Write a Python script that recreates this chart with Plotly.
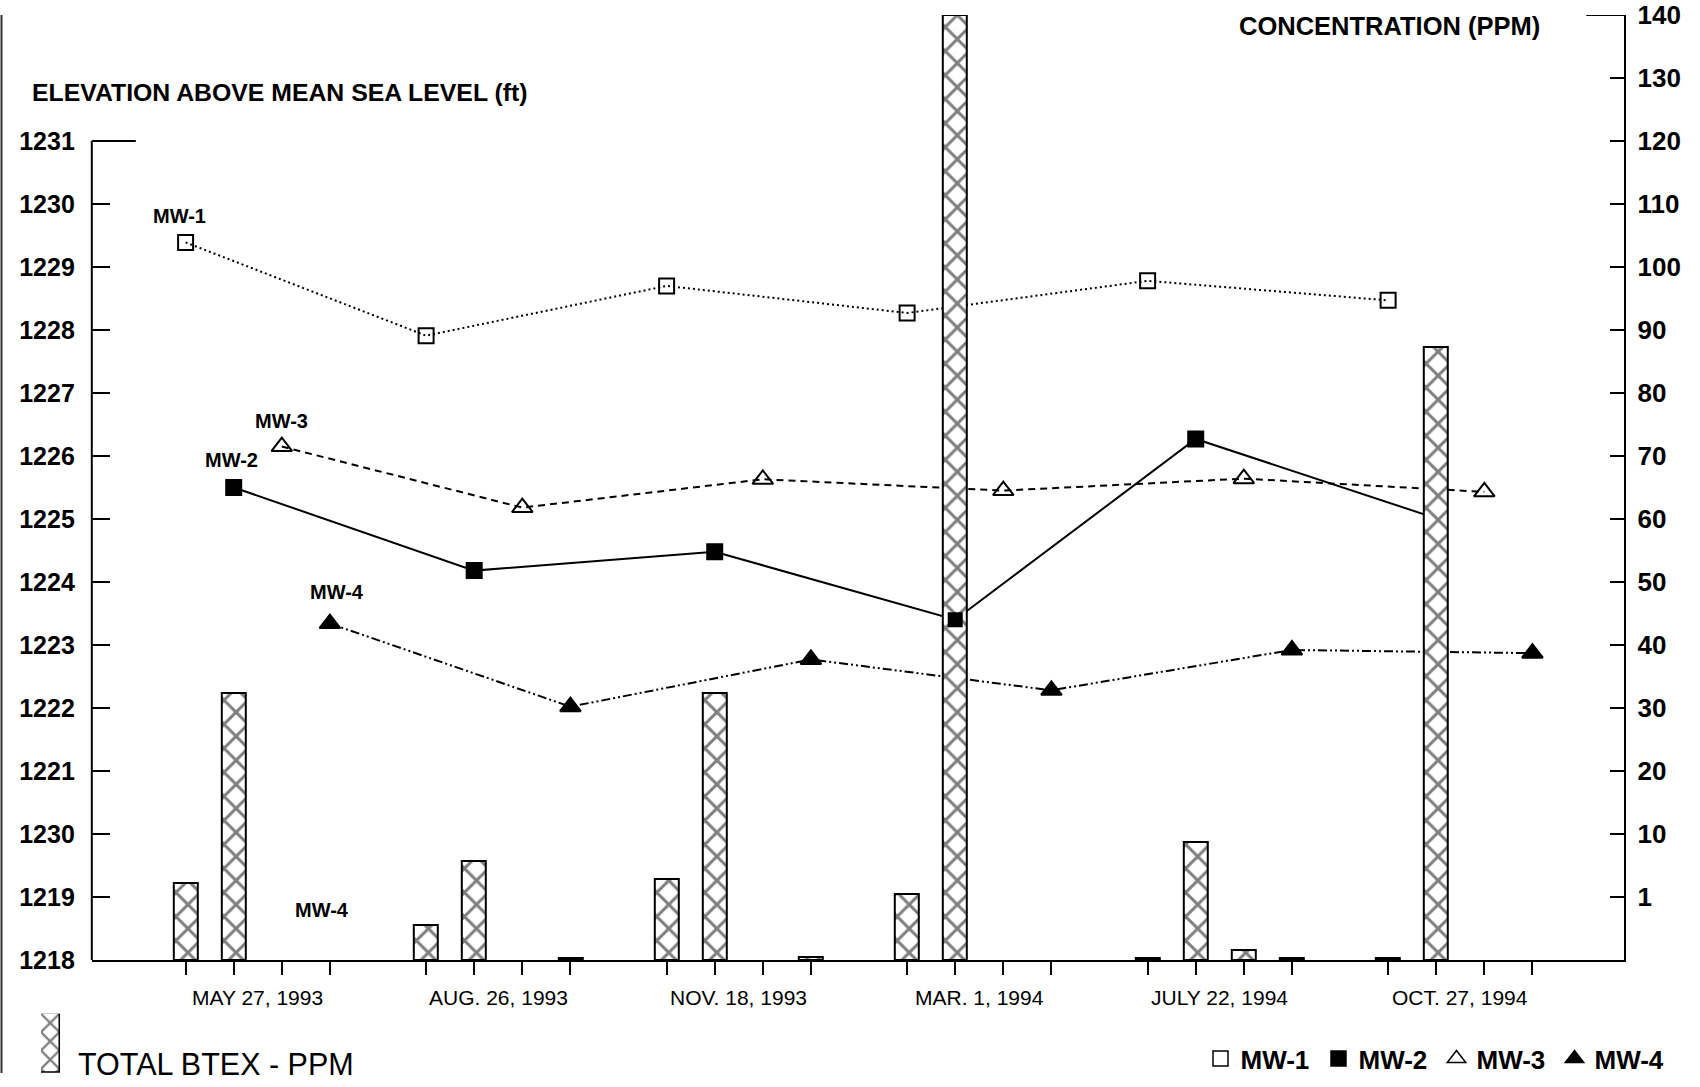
import numpy as np
import plotly.graph_objects as go

# ---------------- data ----------------
dates = ["MAY 27, 1993", "AUG. 26, 1993", "NOV. 18, 1993",
         "MAR. 1, 1994", "JULY 22, 1994", "OCT. 27, 1994"]
wells = ["MW-1", "MW-2", "MW-3", "MW-4"]

# groundwater elevation (ft above MSL)
mw1_elev = [1229.39, 1227.91, 1228.70, 1228.27, 1228.78, 1228.47]
mw2_elev = [1225.50, 1224.18, 1224.48, 1223.40, 1226.27, 1225.01]
mw3_elev = [1226.15, 1225.18, 1225.63, 1225.45, 1225.64, 1225.43]
mw4_elev = [1223.34, 1222.02, 1222.77, 1222.28, 1222.92, 1222.87]

# total BTEX (ppm); None = no bar
mw1_btex = [3.05, 0.55, 3.6, 1.4, 0.03, 0.03]
mw2_btex = [32.4, 6.1, 32.4, 140.0, 8.9, 87.3]
mw3_btex = [None, None, None, None, 0.15, None]
mw4_btex = [None, 0.03, 0.04, None, 0.03, None]

elev_tickvals = list(range(1218, 1232))
elev_ticktext = ["1218", "1219", "1230", "1221", "1222", "1223", "1224",
                 "1225", "1226", "1227", "1228", "1229", "1230", "1231"]
ppm_ticks = [0, 1, 10, 20, 30, 40, 50, 60, 70, 80, 90, 100, 110, 120, 130, 140]
ppm_ticktext = ["", "1", "10", "20", "30", "40", "50", "60", "70", "80",
                "90", "100", "110", "120", "130", "140"]

# ---------------- helpers ----------------
GROUP = 5  # slots per sampling date (4 wells + gap)


def slot(i, j):
    return GROUP * i + j


ppm_pos = list(range(len(ppm_ticks)))


def ppm_to_scale(v):
    return None if v is None else float(np.interp(v, ppm_ticks, ppm_pos))


W, H = 1700, 1087
# the rendered figure occupies ~1062 px of height, centred in the 1087 frame
OFF, HE = 12.5, 1062.0


def py(ypx):
    """paper y for a target pixel row (from top) in the final picture"""
    return min(1.0, max(0.0, 1 - (ypx - OFF) / HE))


PL, PR, PB = 91.8, 1624.3, 961.0
xdom = [PL / W, PR / W]
ydom = [py(PB), 1.0]

FONT = "Liberation Sans, Arial, Helvetica, sans-serif"
HATCH = dict(shape="x", size=17, solidity=0.32, fgcolor="black", bgcolor="white")

fig = go.Figure()

elevs = [mw1_elev, mw2_elev, mw3_elev, mw4_elev]
styles = [
    dict(dash="2px,3px", symbol="square-open", size=15),
    dict(dash="solid", symbol="square", size=15),
    dict(dash="7px,5px", symbol="triangle-up-open", size=18),
    dict(dash="9px,3px,2px,3px,2px,3px", symbol="triangle-up", size=18),
]

for j, (name, ev, st) in enumerate(zip(wells, elevs, styles)):
    fig.add_trace(go.Scatter(
        x=[slot(i, j) for i in range(len(dates))], y=ev,
        mode="lines+markers", name=name, showlegend=False,
        line=dict(color="black", width=2, dash=st["dash"]),
        marker=dict(symbol=st["symbol"], size=st["size"], color="black",
                    line=dict(color="black", width=2)),
        xaxis="x", yaxis="y"))

# BTEX bars (drawn on overlaying axis so they sit above the lines)
btex = [mw1_btex, mw2_btex, mw3_btex, mw4_btex]
bx, by = [], []
for j, vals in enumerate(btex):
    for i, v in enumerate(vals):
        if v is not None:
            bx.append(slot(i, j))
            by.append(ppm_to_scale(v))

fig.add_trace(go.Bar(
    x=bx, y=by, width=0.5, name="TOTAL BTEX - PPM", showlegend=False,
    marker=dict(color="white", line=dict(color="black", width=2),
                pattern=HATCH),
    xaxis="x", yaxis="y2"))

# MW-2 marker that sits on top of the tall March bar
fig.add_trace(go.Scatter(
    x=[slot(i, 1) for i in range(len(dates))], y=mw2_elev, mode="markers",
    showlegend=False, hoverinfo="skip",
    marker=dict(symbol="square", size=15, color="black",
                opacity=[0, 0, 0, 1, 0, 0]),
    xaxis="x", yaxis="y3"))

# legend-only entries for wells
legend_sizes = [15, 15, 20, 20]
for name, st, ls in zip(wells, styles, legend_sizes):
    fig.add_trace(go.Scatter(
        x=[None], y=[None], mode="markers", name=name,
        marker=dict(symbol=st["symbol"], size=ls, color="black",
                    line=dict(color="black", width=1.5)),
        xaxis="x", yaxis="y"))

# legend key for BTEX bars
fig.add_trace(go.Bar(
    x=[0], y=[1], width=1, showlegend=False, hoverinfo="skip",
    marker=dict(color="white", line=dict(color="black", width=1.5),
                pattern=dict(shape="x", size=13, solidity=0.32,
                             fgcolor="black", bgcolor="white")),
    xaxis="x2", yaxis="y4"))

all_slots = [slot(i, j) for i in range(len(dates)) for j in range(len(wells))]

annotations = []
for i, d in enumerate(dates):
    annotations.append(dict(
        x=slot(i, 1.5), xref="x", y=py(998.5), yref="paper",
        text=d, showarrow=False, xanchor="center", yanchor="middle",
        font=dict(family=FONT, size=21, color="black")))

# well labels near first points
label_shift = [(-6, 26), (-2, 27), (0, 26), (7, 32)]
for j, (name, ev) in enumerate(zip(wells, elevs)):
    annotations.append(dict(
        x=slot(0, j), xref="x", y=ev[0], yref="y", text=name,
        showarrow=False, xshift=label_shift[j][0], yshift=label_shift[j][1],
        font=dict(family=FONT, size=20, color="black", weight="bold")))

annotations.append(dict(
    x=slot(0, 3), xref="x", y=0.8, yref="y2", text="MW-4", showarrow=False,
    xshift=-8, font=dict(family=FONT, size=20, color="black", weight="bold")))

annotations.append(dict(
    x=30.4 / W, xref="paper", y=py(90.5), yref="paper",
    text="ELEVATION ABOVE MEAN SEA LEVEL (ft)", showarrow=False,
    xanchor="left", yanchor="middle",
    font=dict(family=FONT, size=24.8, color="black", weight="bold")))
annotations.append(dict(
    x=1389 / W, xref="paper", y=py(24), yref="paper",
    text="CONCENTRATION (PPM)", showarrow=False,
    xanchor="center", yanchor="middle",
    font=dict(family=FONT, size=25.5, color="black", weight="bold")))
annotations.append(dict(
    x=75.5 / W, xref="paper", y=py(1065), yref="paper",
    text="TOTAL BTEX - PPM", showarrow=False,
    xanchor="left", yanchor="middle",
    font=dict(family=FONT, size=30.5, color="black")))

shapes = [
    # left axis line only up to 1231
    dict(type="line", xref="x domain", x0=0, x1=0, yref="y",
         y0=elev_tickvals[0], y1=elev_tickvals[-1],
         line=dict(color="black", width=2)),
    # long top tick on left axis
    dict(type="line", xref="x domain", x0=0, x1=44 / (PR - PL), yref="y",
         y0=elev_tickvals[-1], y1=elev_tickvals[-1],
         line=dict(color="black", width=2)),
    # long top tick on right axis
    dict(type="line", xref="x domain", x0=1 - 38 / (PR - PL), x1=1, yref="y2",
         y0=ppm_pos[-1], y1=ppm_pos[-1], line=dict(color="black", width=2)),
    # scan border at the left edge
    dict(type="line", xref="paper", x0=1.5 / W, x1=1.5 / W, yref="paper",
         y0=0, y1=1, line=dict(color="#333333", width=2)),
]

fig.update_layout(
    width=W, height=H, autosize=False,
    margin=dict(l=0, r=0, t=0, b=0),
    paper_bgcolor="white", plot_bgcolor="white",
    font=dict(family=FONT, color="black"),
    bargap=0, barmode="overlay",
    xaxis=dict(domain=xdom, range=[-1.95, 29.91], anchor="y",
               showline=True, linecolor="black", linewidth=2,
               ticks="outside", ticklen=13, tickwidth=1.5, tickcolor="black",
               tickvals=all_slots, showticklabels=False,
               showgrid=False, zeroline=False),
    yaxis=dict(domain=ydom, range=[1218, 1233], anchor="x",
               tickvals=elev_tickvals, ticktext=elev_ticktext,
               ticks="inside", ticklen=18, tickwidth=2, tickcolor="black",
               ticklabelstandoff=16,
               tickfont=dict(family=FONT, size=25, weight="bold"),
               showline=False, showgrid=False, zeroline=False),
    yaxis2=dict(overlaying="y", side="right", anchor="x",
                range=[0, ppm_pos[-1]], tickvals=ppm_pos[1:],
                ticktext=ppm_ticktext[1:],
                ticks="inside", ticklen=14, tickwidth=2, tickcolor="black",
                ticklabelstandoff=6, ticklabeloverflow="allow",
                tickfont=dict(family=FONT, size=26, weight="bold"),
                showline=True, linecolor="black", linewidth=2,
                showgrid=False, zeroline=False),
    yaxis3=dict(overlaying="y", range=[1218, 1233], visible=False,
                anchor="x"),
    xaxis2=dict(domain=[41 / W, 60 / W], range=[-0.5, 0.5], visible=False,
                anchor="y4"),
    yaxis4=dict(domain=[py(1084), py(1015)], range=[0, 1],
                visible=False, anchor="x2"),
    legend=dict(orientation="h", x=1200.5 / W, xanchor="left",
                y=py(1060), yanchor="middle",
                font=dict(family=FONT, size=26, weight="bold"),
                entrywidth=73, entrywidthmode="pixels",
                bgcolor="rgba(0,0,0,0)", borderwidth=0),
    annotations=annotations,
    shapes=shapes,
)

fig.write_html(
    "out.html",
    config={"displayModeBar": False},
    post_script=(
        "document.documentElement.style.margin='0';"
        "document.documentElement.style.overflow='hidden';"
        "document.body.style.margin='0';"
        "document.body.style.overflow='hidden';"
        "var d=document.getElementById('{plot_id}');"
        "d.style.position='fixed';d.style.left='0px';d.style.top='0px';"
    ),
)
